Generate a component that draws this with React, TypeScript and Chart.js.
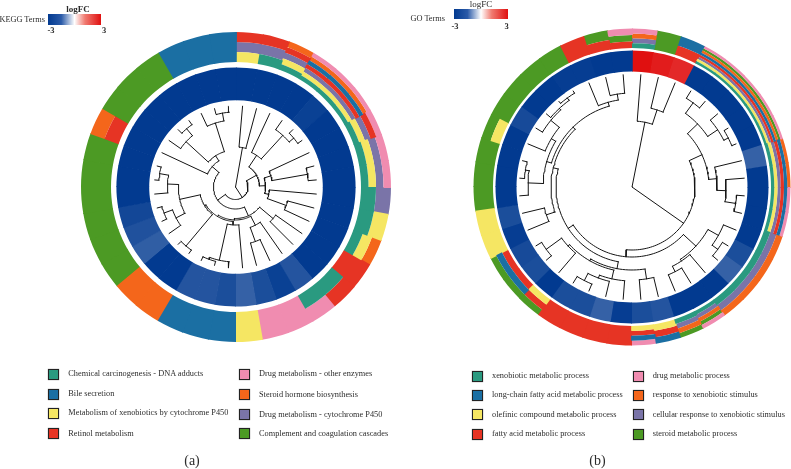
import React, { useEffect, useRef } from "react";
import { Chart, registerables } from "chart.js";

Chart.register(...registerables);

type Tree = 0 | [number, Tree, Tree];

const termCodes = ["T", "B", "Y", "R", "K", "O", "P", "G"];
const termColors = ["#2a9a80", "#1b6fa3", "#f5e663", "#e63424", "#f08cb0", "#f4661b", "#7a74a8", "#4c9a24"];

const keggTerms = [
  "Chemical carcinogenesis - DNA adducts",
  "Bile secretion",
  "Metabolism of xenobiotics by cytochrome P450",
  "Retinol metabolism",
  "Drug metabolism - other enzymes",
  "Steroid hormone biosynthesis",
  "Drug metabolism - cytochrome P450",
  "Complement and coagulation cascades",
];
const goTerms = [
  "xenobiotic metabolic process",
  "long-chain fatty acid metabolic process",
  "olefinic compound metabolic process",
  "fatty acid metabolic process",
  "drug metabolic process",
  "response to xenobiotic stimulus",
  "cellular response to xenobiotic stimulus",
  "steroid metabolic process",
];

// Terms of each gene, inner track to outer track
const keggCells = [
  "YPR", "TPR", "TYPRO", "TYPRBOK", "TYPRBOK", "TYPRBOK", "TYPRK", "TYPK", "TYPK", "TP", "TY", "TYO",
  "R", "TR", "TK", "K", "K", "Y", "B", "B", "B", "O", "O", "G", "G", "G", "G", "G", "G", "RO", "G", "G", "G", "B", "B", "B",
];
const goCells = [
  "TPOK", "G", "RB", "TYPRBOGK", "TYPRBOGK", "TYPRBOGK", "TYPRBOGK", "TYPRBOGK", "TYPRBO", "TYPRBO",
  "TYPRBK", "TYPRBK", "TPO", "TPO", "TPO", "TPO", "TPOGK", "TPOG", "YRB", "YRBK",
  "R", "R", "R", "R", "YRG", "RBG", "RBG", "Y", "Y", "G", "G", "G", "YG", "G", "G", "G", "G", "R", "RG", "RGK",
];

const keggLogFC = [
  -3, -3, -3, -3, -2.9, -3, -3, -3, -3, -3, -3, -3, -3, -3, -2.6, -2.9, -2.7, -2.4,
  -2.7, -2.6, -2.6, -3, -3, -2.45, -2.65, -2.8, -3, -3, -3, -3, -3, -3, -3, -3, -3, -3,
];
const goLogFC = [
  3, 2.85, 2.7, -3, -3, -3, -3, -3, -2.4, -3, -3, -3, -3, -2.7, -2.4, -3, -3, -3, -2.6, -2.7,
  -2.95, -2.4, -2.7, -2.7, -3, -2.7, -2.75, -2.95, -2.7, -3, -3, -3, -3, -2.75, -3, -3, -2.95, -2.95, -3, -3,
];

// Dendrograms: [height radius, left child, right child], 0 is a leaf
const keggTree: Tree = [0,
  [40, 0, 0],
  [12.5,
    [24,
      [38, 0, [70, 0, [76, 0, 0]]],
      [30, [37, 0, [73, 0, 0]], [34, 0, [54, 0, 0]]],
    ],
    [22,
      [31.5,
        [49, 0, 0],
        [33,
          [43, 0, [58, 0, 0]],
          [34.5,
            [38, 0, [75, 0, [77, 0, 0]]],
            [36, [77, 0, 0], [57, [67, 0, [76, 0, 0]], [68, 0, [77, 0, 0]]]],
          ],
        ],
      ],
      [31, 0, [37, [67, 0, [76, 0, 0]], [67, 0, [75, 0, 0]]]],
    ],
  ],
];
const goTree: Tree = [0,
  [66, 0, [81, 0, 0]],
  [63,
    [77,
      [91, [104, 0, 0], [103, 0, [108, 0, 0]]],
      [85, 0, [94, 0, [105, 0, 0]]],
    ],
    [70,
      [87, [99, 0, [106, 0, 0]], [89, 0, [95, 0, 0]]],
      [76,
        [83,
          [93, 0, 0],
          [85, [94, 0, [97, 0, [105, 0, 0]]], [87, 0, [106, 0, 0]]],
        ],
        [81,
          [90, 0, 0],
          [84,
            [89, [104, 0, [108, 0, 0]], [94, 0, [105, 0, [107, 0, [110, 0, 0]]]]],
            [88, 0, [94, 0, 0]],
          ],
        ],
      ],
    ],
  ],
];

const panelA = {
  cx: 235.5, cy: 187, leafR: 81, fcIn: 86.8, fcOut: 119.6, bandIn: 125, bandOut: 155,
  cells: keggCells, logFC: keggLogFC, tree: keggTree,
};
const panelB = {
  cx: 632, cy: 187, leafR: 112.5, fcIn: 115.5, fcOut: 136.5, bandIn: 139, bandOut: 158.5,
  cells: goCells, logFC: goLogFC, tree: goTree,
};

const DARK = [2, 58, 144];
const RED = [224, 16, 16];
function fcColor(v: number) {
  const end = v < 0 ? DARK : RED;
  const t = Math.min(1, Math.abs(v) / 3);
  const c = end.map((e) => Math.round(255 + (e - 255) * t));
  return `rgb(${c[0]},${c[1]},${c[2]})`;
}

function polar(cx: number, cy: number, r: number, deg: number) {
  const a = (deg * Math.PI) / 180;
  return { x: cx + r * Math.sin(a), y: cy - r * Math.cos(a) };
}

// One polyline per branch of the dendrogram
function treeLines(p: typeof panelA) {
  const lines: { x: number; y: number }[][] = [];
  const step = 360 / p.cells.length;
  let leaf = 0;
  const walk = (node: Tree): { angle: number; r: number } => {
    if (node === 0) {
      const angle = (leaf + 0.5) * step;
      leaf += 1;
      return { angle, r: p.leafR };
    }
    const [r, a, b] = node;
    const ca = walk(a);
    const cb = walk(b);
    for (const c of [ca, cb]) {
      lines.push([polar(p.cx, p.cy, r, c.angle), polar(p.cx, p.cy, c.r, c.angle)]);
    }
    if (r > 0) {
      const n = Math.max(2, Math.ceil((cb.angle - ca.angle) / 2));
      const arc: { x: number; y: number }[] = [];
      for (let i = 0; i <= n; i++) {
        arc.push(polar(p.cx, p.cy, r, ca.angle + ((cb.angle - ca.angle) * i) / n));
      }
      lines.push(arc);
    }
    return { angle: (ca.angle + cb.angle) / 2, r };
  };
  walk(p.tree);
  return lines;
}

const trackRadii = {
  id: "trackRadii",
  afterDatasetsUpdate(chart: any) {
    const p = chart.options.plugins.trackRadii.panel as typeof panelA;
    const overlap = 0.006;
    const grow = (el: any) => {
      el.endAngle += overlap;
      el.circumference += overlap;
    };
    chart.getDatasetMeta(0).data.forEach((el: any) => {
      el.innerRadius = p.fcIn;
      el.outerRadius = p.fcOut;
      grow(el);
    });
    termCodes.forEach((code, t) => {
      chart.getDatasetMeta(t + 1).data.forEach((el: any, g: number) => {
        const cell = p.cells[g];
        const idx = cell.indexOf(code);
        const w = (p.bandOut - p.bandIn) / cell.length;
        const k = idx < 0 ? 0 : idx;
        el.innerRadius = p.bandIn + w * k;
        el.outerRadius = p.bandIn + w * (k + 1);
        grow(el);
      });
    });
  },
};

function Ring({ panel }: { panel: typeof panelA }) {
  const ref = useRef<HTMLCanvasElement>(null);
  useEffect(() => {
    const labels = panel.cells.map((_, i) => `gene ${i + 1}`);
    const ones = panel.cells.map(() => 1);
    const fc = panel.logFC.map(fcColor);
    const chart = new Chart(ref.current!, {
      type: "doughnut",
      data: {
        labels,
        datasets: [
          { label: "logFC", data: ones, backgroundColor: fc, borderWidth: 0 },
          ...termCodes.map((code, t) => {
            const colors = panel.cells.map((c) => (c.includes(code) ? termColors[t] : "rgba(0,0,0,0)"));
            return { label: code, data: ones, backgroundColor: colors, borderWidth: 0 };
          }),
        ],
      },
      options: {
        animation: false,
        responsive: false,
        events: [],
        layout: { padding: 0 },
        plugins: { legend: { display: false }, tooltip: { enabled: false }, trackRadii: { panel } } as any,
      },
      plugins: [trackRadii],
    } as any);
    return () => chart.destroy();
  }, [panel]);
  const S = 330;
  return (
    <canvas
      ref={ref}
      width={S}
      height={S}
      style={{ position: "absolute", left: panel.cx - S / 2, top: panel.cy - S / 2, width: S, height: S }}
    />
  );
}

function Dendrograms() {
  const ref = useRef<HTMLCanvasElement>(null);
  useEffect(() => {
    const lines = [...treeLines(panelA), ...treeLines(panelB)];
    const chart = new Chart(ref.current!, {
      type: "scatter",
      data: {
        datasets: lines.map((data) => ({
          data,
          showLine: true,
          pointRadius: 0,
          borderColor: "#141414",
          borderWidth: 1,
          borderCapStyle: "square",
        })),
      },
      options: {
        animation: false,
        responsive: false,
        events: [],
        layout: { padding: 0 },
        plugins: { legend: { display: false }, tooltip: { enabled: false } },
        scales: {
          x: { type: "linear", display: false, min: 0, max: 791 },
          y: { type: "linear", display: false, min: 0, max: 469, reverse: true },
        },
      },
    } as any);
    return () => chart.destroy();
  }, []);
  return <canvas ref={ref} width={791} height={469} style={{ position: "absolute", left: 0, top: 0, width: 791, height: 469 }} />;
}

const FONT = '"Liberation Serif", serif';

function Txt(props: { x: number; y: number; s: number; center?: boolean; right?: boolean; weight?: number; children: React.ReactNode; ls?: number }) {
  const { x, y, s, center, right, weight, children, ls } = props;
  const tx = center ? "-50%" : right ? "-100%" : "0";
  return (
    <div
      style={{
        position: "absolute", left: x, top: y, transform: `translate(${tx},-50%)`, whiteSpace: "nowrap",
        fontFamily: FONT, fontSize: s, lineHeight: 1, color: "#2b2b2b", fontWeight: weight ?? 400, letterSpacing: ls ?? 0,
      }}
    >
      {children}
    </div>
  );
}

function ColorBar({ x, y, w, h }: { x: number; y: number; w: number; h: number }) {
  return (
    <div
      style={{
        position: "absolute", left: x, top: y, width: w, height: h,
        background: "linear-gradient(90deg, #023a90 0%, #2a5aa8 25%, #ffffff 50%, #f07a70 70%, #e01010 100%)",
      }}
    />
  );
}

function Legend({ terms, colX, textX, boxY, textY, size }: { terms: string[]; colX: number[]; textX: number[]; boxY: number[][]; textY: number[][]; size: number }) {
  return (
    <>
      {terms.map((t, i) => {
        const col = i < 4 ? 0 : 1;
        const row = i % 4;
        return (
          <React.Fragment key={t}>
            <div
              style={{
                position: "absolute", left: colX[col], top: boxY[col][row], width: size, height: size, boxSizing: "border-box",
                background: termColors[i], border: "1.4px solid #222", boxShadow: "0 0 1px #777",
              }}
            />
            <Txt x={textX[col]} y={textY[col][row]} s={8.3} ls={0.01}>{t}</Txt>
          </React.Fragment>
        );
      })}
    </>
  );
}

export default function App() {
  return (
    <div style={{ position: "fixed", left: 0, top: 0, width: 791, height: 469, background: "#fff", overflow: "hidden" }}>
      <Ring panel={panelA} />
      <Ring panel={panelB} />
      <Dendrograms />

      <Txt x={45} y={19.5} s={8.3} right>KEGG Terms</Txt>
      <Txt x={78} y={8.5} s={9} center weight={700}>logFC</Txt>
      <ColorBar x={48} y={13.5} w={53} h={11} />
      <Txt x={51} y={30} s={8.5} center weight={700}>-3</Txt>
      <Txt x={104} y={30} s={8.5} center weight={700}>3</Txt>

      <Txt x={445} y={18.5} s={8.3} right>GO Terms</Txt>
      <Txt x={481} y={4} s={9} center>logFC</Txt>
      <ColorBar x={454} y={8.5} w={54} h={10} />
      <Txt x={455} y={26} s={8.5} center weight={700}>-3</Txt>
      <Txt x={506.5} y={26} s={8.5} center weight={700}>3</Txt>

      <Legend
        terms={keggTerms}
        size={11}
        colX={[47.5, 238.5]}
        textX={[68.3, 259]}
        boxY={[[369, 388.5, 408, 428], [369, 389, 409, 428]]}
        textY={[[373.5, 393.5, 412.5, 433.5], [373.5, 394.5, 414.5, 433.5]]}
      />
      <Legend
        terms={goTerms}
        size={11}
        colX={[472, 633]}
        textX={[492, 652.7]}
        boxY={[[370.5, 389.5, 409, 428.5], [370.5, 389.5, 409, 428.5]]}
        textY={[[375.5, 394.5, 414.5, 433.5], [375.5, 394.5, 414.5, 433.5]]}
      />

      <Txt x={192} y={461} s={14} center>(a)</Txt>
      <Txt x={597.5} y={461} s={14} center>(b)</Txt>
    </div>
  );
}
